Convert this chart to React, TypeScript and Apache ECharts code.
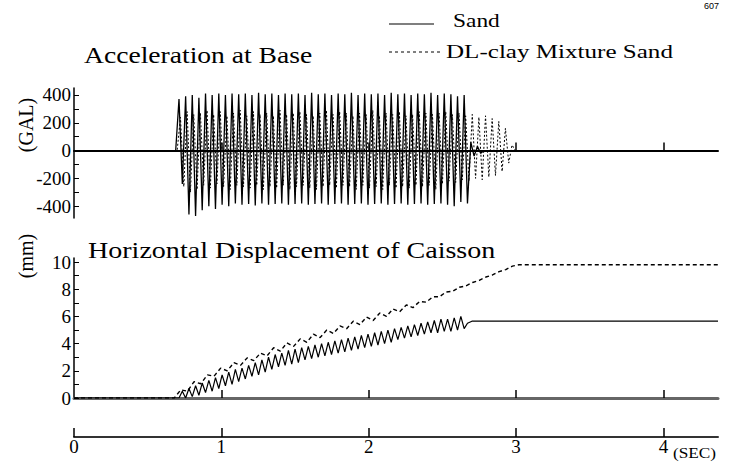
import React, { useEffect, useRef } from "react";
import * as echarts from "echarts";

// ---- axis extents & ticks ----
const T_MAX = 4.37;
const timeTicks = [0, 1, 2, 3, 4];
const accTickLabels = [-400, -200, 0, 200, 400];
const accTicks = [-400, -300, -200, -100, 0, 100, 200, 300, 400];
const dispTickLabels = [0, 2, 4, 6, 8, 10];
const dispTicks = [0, 1, 2, 3, 4, 5, 6, 7, 8, 9, 10];

// ---- acceleration at base (GAL): alternating peaks, sampled every half cycle ----
const ACC_STEP = 0.0225; // s between successive peak/trough
const sandAccStart = 0.69;
const sandAccPeaks = [
  0, 370, -240, 390, -460, 400, -470, 380, -430, 410, -400,
  400, -420, 410, -390, 400, -400, 410, -380, 405, -390,
  410, -385, 400, -395, 415, -380, 405, -390, 410, -385,
  400, -380, 410, -390, 405, -385, 410, -380, 400, -390,
  415, -385, 405, -380, 410, -390, 400, -385, 410, -380,
  405, -390, 415, -385, 400, -380, 410, -390, 405, -385,
  410, -380, 400, -390, 415, -385, 405, -380, 410, -390,
  400, -385, 410, -380, 405, -390, 415, -385, 400, -380,
  410, -390, 405, -400, 390, -370, 400,
  -380, 60, -40, 30, -20, 0,
];
const clayAccStart = 0.70;
const clayAccPeaks = [
  0, 240, -260, 280, -300, 260, -280, 270, -250, 290, -270, 260, -240, 280, -260, 250, -280, 270, -250, 290,
  -260, 250, -270, 280, -250, 260, -280, 270, -260, 250, -270, 290, -250, 260, -280, 270, -260, 280, -250, 260,
  -270, 250, -280, 270, -260, 290, -250, 260, -270, 280, -250, 270, -260, 250, -280, 270, -250, 260, -270, 290,
  -260, 250, -280, 270, -250, 260, -270, 280, -260, 250, -270, 260, -250, 280, -260, 270, -250, 260, -280, 270,
  -240, 280, -220, 260, -230, 270, -210, 250, -220, 260, -200, 240, -210, 250, -190, 230, -180, 210, -150, 160,
  -90, 40, 0,
];

// ---- horizontal displacement of caisson (mm) ----
const sandDispStart = 0.69;
const sandDispStep = 0.0225;
const sandDisp = [
  0.0, 0.0, 0.5, 0.0, 0.7, 0.1, 0.9, 0.2, 1.1, 0.4,
  1.3, 0.5, 1.5, 0.7, 1.7, 0.9, 1.9, 1.0, 2.1, 1.2,
  2.2, 1.4, 2.4, 1.6, 2.6, 1.7, 2.8, 1.9, 3.0, 2.1,
  3.2, 2.3, 3.3, 2.4, 3.5, 2.5, 3.6, 2.6, 3.7, 2.8,
  3.8, 2.9, 3.9, 3.0, 4.0, 3.1, 4.1, 3.2, 4.2, 3.3,
  4.3, 3.4, 4.4, 3.5, 4.5, 3.6, 4.6, 3.7, 4.7, 3.8,
  4.8, 3.9, 4.9, 4.0, 5.0, 4.1, 5.1, 4.3, 5.2, 4.4,
  5.3, 4.5, 5.4, 4.6, 5.5, 4.7, 5.6, 4.8, 5.7, 4.8,
  5.8, 4.9, 5.8, 4.9, 5.9, 5.0, 6.0,
];
const sandDispTail = [
  [2.6475, 5.1],
  [2.67, 5.5],
  [2.7, 5.65],
  [4.37, 5.65],
];
const clayDispStart = 0.68;
const clayDispStep = 0.045;
const clayDisp = [
  0.0, 0.6, 0.5, 1.2, 1.05, 1.7, 1.6, 2.2, 2.0, 2.6,
  2.4, 2.95, 2.75, 3.3, 3.1, 3.7, 3.45, 4.05, 3.8, 4.35,
  4.1, 4.7, 4.45, 5.0, 4.75, 5.3, 5.1, 5.65, 5.4, 5.95,
  5.7, 6.25, 6.0, 6.55, 6.35, 6.85, 6.65, 7.1, 7.05, 7.45,
  7.45, 7.8, 7.85, 8.15, 8.25, 8.5, 8.65, 8.9, 9.05, 9.3,
  9.45, 9.7, 9.8,
];
const clayDispFinal = 9.8;

const SERIF = '"Liberation Serif", "Times New Roman", serif';

function sampled(start: number, step: number, vals: number[]) {
  return vals.map((v, i) => [Number((start + i * step).toFixed(4)), v]);
}

export default function App() {
  const ref = useRef<HTMLDivElement>(null);
  useEffect(() => {
    if (!ref.current) return;
    const chart = echarts.init(ref.current, null, { renderer: "svg" });

    const labelStyle = { color: "#000", fontFamily: SERIF, fontSize: 19 };

    const option: any = {
      animation: false,
      backgroundColor: "#fff",
      grid: [
        { left: 74, right: 14, top: 88, height: 130 },
        { left: 74, right: 14, top: 258, height: 140 },
      ],
      xAxis: [
        {
          gridIndex: 0, type: "value", min: 0, max: T_MAX,
          axisLine: { onZero: true, lineStyle: { color: "#000", width: 2 } },
          axisTick: { inside: true, length: 8, customValues: [1, 2, 3, 4], lineStyle: { color: "#000", width: 1.5 } },
          axisLabel: { show: false }, splitLine: { show: false },
        },
        {
          gridIndex: 1, type: "value", min: 0, max: T_MAX,
          axisLine: { onZero: true, lineStyle: { color: "#666", width: 3 } },
          axisTick: { inside: true, length: 8, customValues: [1, 2, 3, 4], lineStyle: { color: "#000", width: 1.5 } },
          axisLabel: { show: false }, splitLine: { show: false },
        },
        {
          gridIndex: 1, type: "value", min: 0, max: T_MAX, position: "bottom", offset: 39,
          axisLine: { onZero: false, lineStyle: { color: "#333", width: 2 } },
          axisTick: { inside: true, length: 9, customValues: timeTicks, lineStyle: { color: "#000", width: 1.5 } },
          axisLabel: { ...labelStyle, margin: 0, customValues: timeTicks },
          splitLine: { show: false },
        },
      ],
      yAxis: [
        {
          gridIndex: 0, type: "value", min: -485, max: 450,
          axisLine: { show: true, lineStyle: { color: "#000", width: 1.5 } },
          axisTick: { show: true, inside: true, length: 5, customValues: accTicks, lineStyle: { color: "#000" } },
          axisLabel: { ...labelStyle, margin: 3, customValues: accTickLabels },
          splitLine: { show: false },
        },
        {
          gridIndex: 1, type: "value", min: 0, max: 10.3,
          axisLine: { show: true, lineStyle: { color: "#000", width: 1.5 } },
          axisTick: { show: true, inside: true, length: 5, customValues: dispTicks, lineStyle: { color: "#000" } },
          axisLabel: { ...labelStyle, margin: 3, customValues: dispTickLabels },
          splitLine: { show: false },
        },
      ],
      series: [
        {
          name: "DL-clay Mixture Sand", type: "line", xAxisIndex: 0, yAxisIndex: 0,
          showSymbol: false, symbol: "none",
          data: [[0, 0], ...sampled(clayAccStart, ACC_STEP, clayAccPeaks), [T_MAX, 0]],
          lineStyle: { color: "#000", width: 1, type: [2, 2] },
        },
        {
          name: "Sand", type: "line", xAxisIndex: 0, yAxisIndex: 0,
          showSymbol: false, symbol: "none",
          data: [[0, 0], ...sampled(sandAccStart, ACC_STEP, sandAccPeaks), [T_MAX, 0]],
          lineStyle: { color: "#000", width: 1.3 },
        },
        {
          name: "Sand", type: "line", xAxisIndex: 1, yAxisIndex: 1,
          showSymbol: false, symbol: "none",
          data: [[0, 0], ...sampled(sandDispStart, sandDispStep, sandDisp), ...sandDispTail],
          lineStyle: { color: "#000", width: 1.2 },
        },
        {
          name: "DL-clay Mixture Sand", type: "line", xAxisIndex: 1, yAxisIndex: 1,
          showSymbol: false, symbol: "none",
          data: [[0, 0], ...sampled(clayDispStart, clayDispStep, clayDisp), [T_MAX, clayDispFinal]],
          lineStyle: { color: "#000", width: 1.4, type: [4, 3] },
        },
      ],
      graphic: [
        { type: "text", x: 84, y: 55, scaleX: 1.2, style: { text: "Acceleration at Base", fontFamily: SERIF, fontSize: 23, fill: "#000", align: "left", verticalAlign: "middle" } },
        { type: "text", x: 88, y: 250, scaleX: 1.22, style: { text: "Horizontal Displacement of Caisson", fontFamily: SERIF, fontSize: 23, fill: "#000", align: "left", verticalAlign: "middle" } },
        { type: "line", shape: { x1: 389, y1: 24, x2: 434, y2: 24 }, style: { stroke: "#000", lineWidth: 1.2 } },
        { type: "text", x: 453, y: 21, scaleX: 1.3, style: { text: "Sand", fontFamily: SERIF, fontSize: 18, fill: "#000", align: "left", verticalAlign: "middle" } },
        { type: "line", shape: { x1: 389, y1: 52, x2: 441, y2: 52 }, style: { stroke: "#000", lineWidth: 1, lineDash: [3, 3] } },
        { type: "text", x: 446, y: 52, scaleX: 1.32, style: { text: "DL-clay Mixture Sand", fontFamily: SERIF, fontSize: 19, fill: "#000", align: "left", verticalAlign: "middle" } },
        { type: "text", x: 26, y: 125, rotation: Math.PI / 2, style: { text: "(GAL)", fontFamily: SERIF, fontSize: 20, fill: "#000", align: "center", verticalAlign: "middle" } },
        { type: "text", x: 26, y: 256, rotation: Math.PI / 2, style: { text: "(mm)", fontFamily: SERIF, fontSize: 20, fill: "#000", align: "center", verticalAlign: "middle" } },
        { type: "text", x: 673, y: 453, scaleX: 1.15, style: { text: "(SEC)", fontFamily: SERIF, fontSize: 15, fill: "#000", align: "left", verticalAlign: "middle" } },
        { type: "text", x: 704, y: 1, style: { text: "607", fontFamily: '"Liberation Sans", sans-serif', fontSize: 9, fill: "#000", align: "left", verticalAlign: "top" } },
      ],
    };
    chart.setOption(option);
    return () => chart.dispose();
  }, []);
  return <div ref={ref} style={{ width: 732, height: 462, position: "absolute", left: 0, top: 0 }} />;
}
